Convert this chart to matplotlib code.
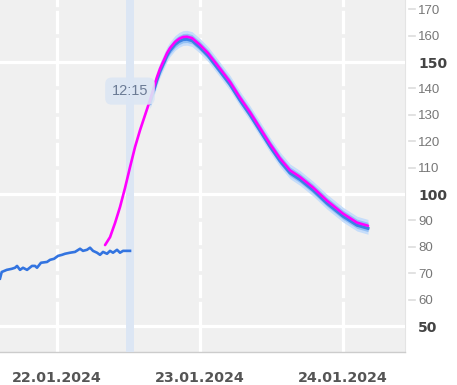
import numpy as np
import pandas as pd
import matplotlib
matplotlib.use("Agg")
import matplotlib.pyplot as plt
from matplotlib.transforms import blended_transform_factory

# Zeiten in Stunden ab 22.01.2024 00:00
base = pd.Timestamp("2024-01-22 00:00")

obs_hours = [-9.57, -9.28, -8.44, -7.60, -7.05, -6.71, -6.21, -5.71, -5.03, -4.20,
             -3.69, -3.36, -2.69, -1.68, -1.17, -0.50, 0.17, 0.84, 1.34, 2.18,
             3.02, 3.86, 4.36, 5.03, 5.54, 6.04, 6.71, 7.22, 7.72, 8.39,
             8.89, 9.40, 10.07, 10.57, 11.08, 11.75, 12.25]
obs_values = [68.0, 70.5, 71.3, 71.7, 72.1, 72.8, 71.3, 72.1, 71.3, 72.8,
              72.8, 72.1, 74.0, 74.3, 75.1, 75.5, 76.6, 77.0, 77.4, 77.8,
              78.1, 79.3, 78.5, 78.9, 79.7, 78.5, 77.8, 77.0, 78.1, 77.4,
              78.5, 77.8, 78.9, 77.8, 78.5, 78.5, 78.5]

fc_hours = [8.06, 8.90, 9.73, 10.57, 11.41, 12.25, 13.09, 13.93, 15.61, 16.78,
            17.29, 18.46, 18.96, 19.80, 20.48, 21.15, 21.82, 22.66, 23.33, 24.00,
            25.34, 27.36, 29.03, 30.71, 32.39, 34.07, 35.75, 37.43, 39.10, 40.78,
            42.96, 45.31, 48.00, 50.35, 52.19]
fc_values = [80.7, 83.7, 89.0, 95.1, 102.3, 110.2, 117.8, 124.2, 135.6, 144.3,
             147.5, 153.4, 155.3, 157.6, 158.8, 159.5, 159.6, 159.1, 157.8, 156.5,
             153.4, 147.5, 142.5, 136.5, 131.0, 125.0, 119.0, 113.5, 109.0, 106.5,
             102.5, 97.5, 92.6, 89.2, 88.0]

now_hours = 12.25
now_label = "12:15"
day_ticks = ["2024-01-22", "2024-01-23", "2024-01-24"]
day_labels = ["22.01.2024", "23.01.2024", "24.01.2024"]
y_ticks = [50, 60, 70, 80, 90, 100, 110, 120, 130, 140, 150, 160, 170]
y_major = [50, 100, 150]

obs_t = [base + pd.Timedelta(hours=h) for h in obs_hours]
fc_t = [base + pd.Timedelta(hours=h) for h in fc_hours]
fc = np.array(fc_values)

fig = plt.figure(figsize=(4.57, 3.85), dpi=100)
ax = fig.add_axes([0, 33 / 385, 405 / 457, 352 / 385])
ax.set_facecolor("#f0f0f0")

# Gitter: weisse Tageslinien, unterbrochen bei jedem 10er-Wert
for d in day_ticks:
    ax.axvline(pd.Timestamp(d), color="white", lw=2.3, zorder=1)
for v in y_ticks:
    if v in y_major:
        ax.axhline(v, color="white", lw=2.3, zorder=3)
    else:
        ax.axhline(v, color="#f0f0f0", lw=2.6, zorder=2)

# aktueller Zeitpunkt
now_t = base + pd.Timedelta(hours=now_hours)
ax.axvspan(now_t - pd.Timedelta(minutes=45), now_t + pd.Timedelta(minutes=45),
           color="#dce6f4", lw=0, zorder=4)
ax.text(now_t, 139, now_label, ha="center", va="center", fontsize=10.5,
        family="Liberation Sans", color="#6b7b95", zorder=9,
        bbox=dict(boxstyle="round,pad=0.45", fc="#dce6f4", ec="none", alpha=0.9))

# Ensemble-Band um die Vorhersage
band = slice(8, None)
bt = fc_t[band]
ax.fill_between(bt, fc[band] - 3.2, fc[band] + 2.4, color="#c6ddfa", lw=0, zorder=5)
ax.fill_between(bt, fc[band] - 2.2, fc[band] + 1.3, color="#93c0f4", lw=0, zorder=5)
ax.plot(bt, fc[band] - 1.0, color="#3b80e3", lw=2.2, zorder=6)

ax.plot(obs_t, obs_values, color="#3374e0", lw=1.9, zorder=7)
ax.plot(fc_t, fc_values, color="#ff00ff", lw=1.9, zorder=8, solid_capstyle="round")

ax.set_xlim(base + pd.Timedelta(hours=-9.57), base + pd.Timedelta(hours=58.4))
ax.set_ylim(40.2, 173.5)

ax.set_xticks([pd.Timestamp(d) for d in day_ticks])
ax.set_xticklabels(day_labels, fontsize=10.3, fontweight="bold",
                   family="DejaVu Sans", color="#555555")
ax.tick_params(axis="x", length=0, pad=14)

ax.yaxis.tick_right()
ax.set_yticks(y_ticks)
ax.set_yticklabels([str(v) for v in y_ticks])
ax.tick_params(axis="y", length=0, pad=9.5)
for lab, v in zip(ax.get_yticklabels(), y_ticks):
    if v in y_major:
        lab.set_family("DejaVu Sans")
        lab.set_fontweight("bold")
        lab.set_fontsize(10)
        lab.set_color("#444444")
    else:
        lab.set_family("Liberation Sans")
        lab.set_fontsize(9.5)
        lab.set_color("#777777")

# kleine Striche neben den normalen Werten
tr = blended_transform_factory(ax.transAxes, ax.transData)
for v in y_ticks:
    if v not in y_major:
        ax.plot([1.010, 1.025], [v, v], color="#dddddd", lw=1.2,
                transform=tr, clip_on=False)

for s in ["left", "top"]:
    ax.spines[s].set_visible(False)
ax.spines["bottom"].set_color("#cccccc")
ax.spines["bottom"].set_linewidth(1.0)
ax.spines["right"].set_color("#e4e4e4")
ax.spines["right"].set_linewidth(0.8)

fig.savefig("out.png", dpi=100)
